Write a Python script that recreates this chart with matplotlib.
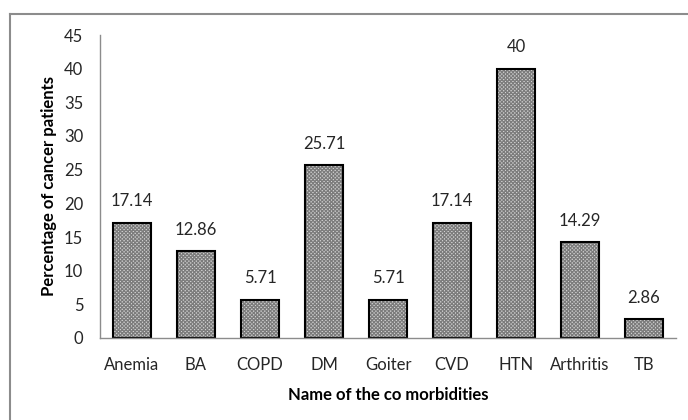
import matplotlib
matplotlib.use("Agg")
import matplotlib.pyplot as plt
from matplotlib.lines import Line2D

categories = ["Anemia", "BA", "COPD", "DM", "Goiter", "CVD", "HTN", "Arthritis", "TB"]
values = [17.14, 12.86, 5.71, 25.71, 5.71, 17.14, 40, 14.29, 2.86]
labels = ["17.14", "12.86", "5.71", "25.71", "5.71", "17.14", "40", "14.29", "2.86"]
yticks = [0, 5, 10, 15, 20, 25, 30, 35, 40, 45]

plt.rcParams['font.family'] = ['Lato', 'DejaVu Sans']
plt.rcParams['hatch.linewidth'] = 0.9

fig = plt.figure(figsize=(6.88, 4.2), dpi=100)
# outer chart-area frame (only top and left visible)
fig.add_artist(Line2D([9.5/688, 9.5/688], [0, 1 - 13.5/420], transform=fig.transFigure,
                      color='#8c8c8c', linewidth=1.5))
fig.add_artist(Line2D([9.5/688, 1], [1 - 13.5/420, 1 - 13.5/420], transform=fig.transFigure,
                      color='#8c8c8c', linewidth=1.5))
ax = fig.add_axes([100/688, 82/420, 576/688, 303/420])

x = list(range(len(categories)))
ax.bar(x, values, width=0.58, color='#d4d4d4', edgecolor='#7c7c7c', hatch='xxxxxxxxx', linewidth=0)
ax.bar(x, values, width=0.58, fill=False, edgecolor='black', linewidth=1.5)

for xi, v, lab in zip(x, values, labels):
    ax.annotate(lab, (xi, v), xytext=(0, 9.5), textcoords='offset points',
                ha='center', va='bottom', fontsize=12, color='#262626')

ax.set_xlim(-0.5, len(categories) - 0.5)
ax.set_ylim(0, 45)
ax.set_yticks(yticks)
ax.set_xticks(x)
ax.set_xticklabels(categories)
ax.tick_params(axis='both', length=0, labelsize=12, labelcolor='#262626')
ax.tick_params(axis='x', pad=14)
ax.tick_params(axis='y', pad=12)
for s in ['top', 'right']:
    ax.spines[s].set_visible(False)
for s in ['left', 'bottom']:
    ax.spines[s].set_color('#8c8c8c')
    ax.spines[s].set_linewidth(1)

ax.set_xlabel("Name of the co morbidities", fontsize=12, fontweight='bold', labelpad=10)
ax.set_ylabel("Percentage of cancer patients", fontsize=12, fontweight='bold', labelpad=5)

fig.savefig("out.png", dpi=100)
